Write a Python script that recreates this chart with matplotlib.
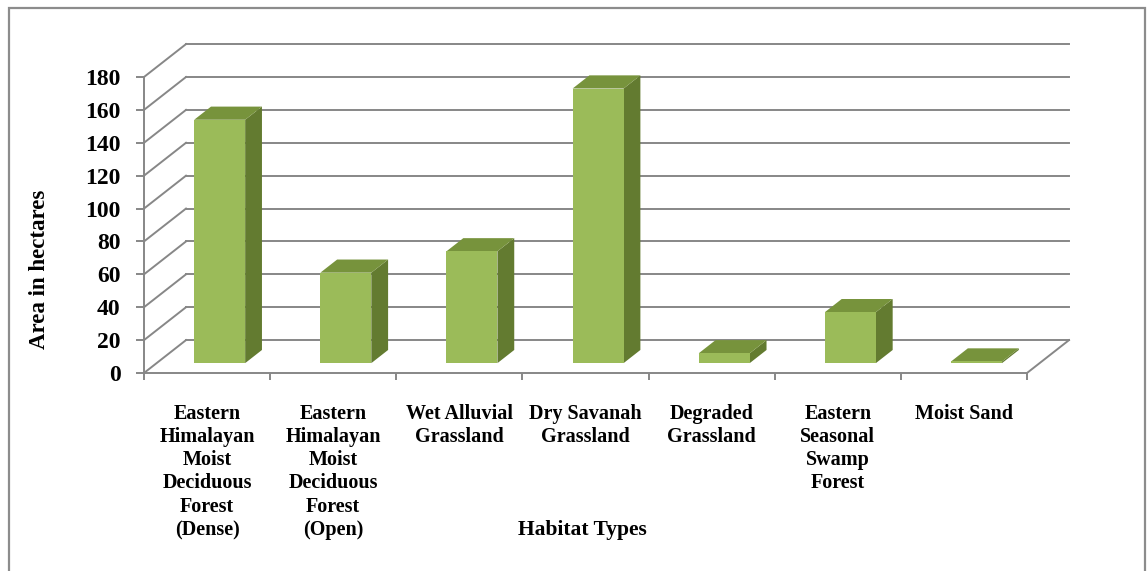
import matplotlib.pyplot as plt
from matplotlib.patches import Polygon, Rectangle

# data
habitats = ['Eastern\nHimalayan\nMoist\nDeciduous\nForest\n(Dense)',
            'Eastern\nHimalayan\nMoist\nDeciduous\nForest\n(Open)',
            'Wet Alluvial\nGrassland',
            'Dry Savanah\nGrassland',
            'Degraded\nGrassland',
            'Eastern\nSeasonal\nSwamp\nForest',
            'Moist Sand']
area = [148, 55, 68, 167, 6, 31, 1]
yticks = list(range(0, 181, 20))

DX = 0.333   # depth shift (category units)
DY = 20.0    # depth shift (value units)
D0, D1 = 0.3, 0.7   # bar depth
W = 0.404           # bar width
GRID = '#878787'

plt.rcParams['font.family'] = ['Liberation Serif', 'DejaVu Serif']


def proj(x, y, d):
    return (x + DX * d, y + DY * d)


fig = plt.figure(figsize=(11.47, 5.71), dpi=100)
ax = fig.add_axes([144 / 1147, (571 - 373) / 571, 883 / 1147, 296 / 571])
ax.set_xlim(-0.5, len(habitats) - 0.5)
ax.set_ylim(0, 180)
ax.patch.set_alpha(0)

xl, xr = -0.5, len(habitats) - 0.5
# walls / gridlines
for v in yticks:
    ax.plot([xl, xl + DX], [v, v + DY], color=GRID, lw=1.4, clip_on=False, zorder=1)
    ax.plot([xl + DX, xr + DX], [v + DY, v + DY], color=GRID, lw=1.4, clip_on=False, zorder=1)
ax.plot([xr, xr + DX], [0, DY], color=GRID, lw=1.4, clip_on=False, zorder=1)

# 3d bars
for i, v in enumerate(area):
    x0, x1 = i - W / 2, i + W / 2
    front = [proj(x0, 0, D0), proj(x1, 0, D0), proj(x1, v, D0), proj(x0, v, D0)]
    top = [proj(x0, v, D0), proj(x1, v, D0), proj(x1, v, D1), proj(x0, v, D1)]
    side = [proj(x1, 0, D0), proj(x1, 0, D1), proj(x1, v, D1), proj(x1, v, D0)]
    ax.add_patch(Polygon(side, closed=True, fc='#637b30', ec='none', clip_on=False, zorder=3))
    ax.add_patch(Polygon(top, closed=True, fc='#77933c', ec='none', clip_on=False, zorder=3))
    ax.add_patch(Polygon(front, closed=True, fc='#9bbb59', ec='none', clip_on=False, zorder=4))

for s in ['top', 'right']:
    ax.spines[s].set_visible(False)
for s in ['left', 'bottom']:
    ax.spines[s].set_color(GRID)
    ax.spines[s].set_linewidth(1.4)

ax.set_yticks(yticks)
ax.set_yticklabels([str(t) for t in yticks], fontsize=17, fontweight='bold')
ax.tick_params(axis='y', length=6, width=1.4, color=GRID, pad=11)

ax.set_xticks(range(len(habitats)))
ax.set_xticklabels(habitats, fontsize=14.5, fontweight='bold', linespacing=1.22)
ax.set_xticks([k - 0.5 for k in range(len(habitats) + 1)], minor=True)
ax.tick_params(axis='x', which='major', length=0, pad=22)
ax.tick_params(axis='x', which='minor', length=5, width=1.4, color=GRID)

fig.text(40 / 1147, 1 - 269 / 571, 'Area in hectares', rotation=90, ha='center', va='center',
         fontsize=16.5, fontweight='bold')
fig.text(582 / 1147, 1 - 530 / 571, 'Habitat Types', ha='center', va='center',
         fontsize=15.5, fontweight='bold')

fig.add_artist(Rectangle((9 / 1147, -0.02), (1145 - 9) / 1147, (571 - 8) / 571 + 0.02,
                         transform=fig.transFigure, fill=False, ec='#8c8c8c', lw=1.6))

fig.savefig('out.png', dpi=100)
